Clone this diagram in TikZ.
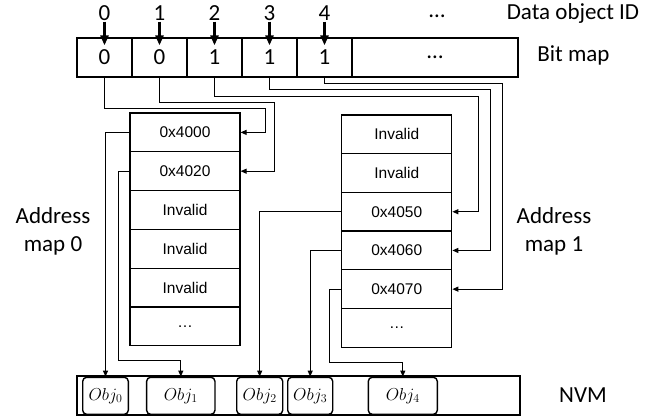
\documentclass[tikz,border=0pt]{standalone}
\usepackage{fontspec}
\setmainfont{Carlito}
\newfontfamily\arialfont{Liberation Sans}
\usetikzlibrary{positioning,calc,arrows.meta}

\begin{document}
\begin{tikzpicture}[x=1pt,y=-1pt,
    bigtext/.style={font=\fontsize{23}{28}\selectfont},
    cell/.style={draw, line width=1.3pt, minimum width=55pt, minimum height=39pt, inner sep=0pt, font=\fontsize{23}{28}\selectfont},
    entry/.style={draw, line width=1.2pt, minimum width=110pt, minimum height=38.8pt, inner sep=0pt, font=\arialfont\fontsize{15.5}{18}\selectfont},
    objbox/.style={draw, line width=1.4pt, rounded corners=4pt, minimum height=37pt, inner sep=0pt, font=\fontsize{17}{20}\selectfont},
    idarrow/.style={line width=2.6pt, -{Triangle[length=10pt,width=8pt]}},
    conn/.style={line width=1.1pt, -{Triangle[length=6pt,width=5pt]}}]
    \useasboundingbox (0,0) rectangle (667,420);

    % Bit map with data object IDs
    \foreach \v [count=\i from 0] in {0,0,1,1,1} {
        \node[cell] (b\i) at (104.5+55*\i, 57.5) {\v};
        \node[bigtext, inner sep=1pt] (id\i) at (104.5+55*\i, 13) {\i};
        \draw[idarrow] (id\i.south) -- ($(b\i.north)+(0,8)$);
    }
    \node[cell, minimum width=166pt] (bdots) at (435,57.5) {\ldots};
    \node[bigtext, inner sep=0pt] (iddots) at (437,16) {\ldots};
    \node[bigtext] (idlabel) at (573,13) {Data object ID};
    \node[bigtext] (bmlabel) at (573.5,55) {Bit map};

    % Address maps
    \foreach \t [count=\i] in {0x4000,0x4020,Invalid,Invalid,Invalid,\ldots}
        \node[entry] (a0r\i) at (185, 113+38.8*\i-19.4) {\t};
    \foreach \t [count=\i] in {Invalid,Invalid,0x4050,0x4060,0x4070,\ldots}
        \node[entry] (a1r\i) at (396.75, 115+38.7*\i-19.35) {\t};
    \node[bigtext, align=center] (map0label) at (53,231) {Address\\map 0};
    \node[bigtext, align=center] (map1label) at (554,231) {Address\\map 1};

    % NVM
    \node[draw, line width=1.5pt, minimum width=443pt, minimum height=39pt, inner sep=0pt] (nvm) at (298.5,395.5) {};
    \node[bigtext] (nvmlabel) at (583,395) {NVM};
    \foreach \cx/\w [count=\i from 0] in {105.5/45.6,180.8/68.3,259.7/46,310.2/45,402.8/69}
        \node[objbox, minimum width=\w pt] (obj\i) at (\cx,395.8) {$Obj_{\i}$};

    % Bit map to address maps
    \draw[conn] (b0.south) -- ++(0,31) -| ($(a0r1.east)+(25,0)$) -- (a0r1.east);
    \draw[conn] (b1.south) -- ++(0,25) -| ($(a0r2.east)+(34,0)$) -- (a0r2.east);
    \draw[conn] (b2.south) -- ++(0,19) -| ($(a1r3.east)+(26,0)$) -- (a1r3.east);
    \draw[conn] (b3.south) -- ++(0,12) -| ($(a1r4.east)+(38,0)$) -- (a1r4.east);
    \draw[conn] (b4.south) -- ++(0,6) -| ($(a1r5.east)+(50,0)$) -- (a1r5.east);

    % Address maps to NVM
    \draw[conn] (a0r1.west) -| (obj0.north);
    \draw[conn] (a0r2.west) -- ++(-11,0) |- ($(obj1.north)+(0,-16)$) -- (obj1.north);
    \draw[conn] (a1r3.west) -| (obj2.north);
    \draw[conn] (a1r4.west) -| (obj3.north);
    \draw[conn] (a1r5.west) -- ++(-12,0) |- ($(obj4.north)+(0,-14)$) -- (obj4.north);
\end{tikzpicture}
\end{document}
